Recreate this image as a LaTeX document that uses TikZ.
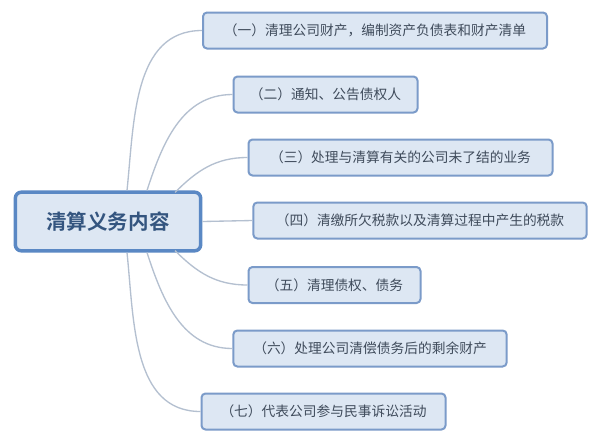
\documentclass[tikz,border=0pt]{standalone}
\usepackage{fontspec}
\newfontfamily\cjk[BoldFont={Noto Sans CJK SC Bold}]{Noto Sans CJK SC}
\usetikzlibrary{positioning, calc}
\definecolor{boxfill}{HTML}{DDE7F3}
\definecolor{boxline}{HTML}{7B9BC9}
\definecolor{rootline}{HTML}{5A88C4}
\definecolor{roottext}{HTML}{34557F}
\definecolor{leaftext}{HTML}{3F4B5B}
\definecolor{linkgray}{HTML}{B4C0D0}

\begin{document}
\begin{tikzpicture}[x=0.75pt, y=-0.75pt,
    leaf/.style={draw=boxline, line width=1.5pt, fill=boxfill, rounded corners=3pt,
        minimum height=27pt, inner sep=0pt, text=leaftext,
        font=\cjk\fontsize{10.3}{12}\selectfont},
    root/.style={draw=rootline, line width=2.6pt, fill=boxfill, rounded corners=4.5pt,
        minimum width=139pt, minimum height=44pt, inner sep=0pt, text=roottext,
        font=\cjk\bfseries\fontsize{15.4}{18}\selectfont},
    link/.style={draw=linkgray, line width=1pt}]

    \fill[white] (0,0) rectangle (600,444);

    % central topic
    \node[root] (root) at (108,221.5) {清算义务内容};

    % the seven duties
    \node[leaf, minimum width=258pt] (d1) at (375,30.5) {（一）清理公司财产，编制资产负债表和财产清单};
    \node[leaf, minimum width=138pt] (d2) at (325.5,94.5) {（二）通知、公告债权人};
    \node[leaf, minimum width=228pt] (d3) at (400.5,157.5) {（三）处理与清算有关的公司未了结的业务};
    \node[leaf, minimum width=250pt] (d4) at (420,220.5) {（四）清缴所欠税款以及清算过程中产生的税款};
    \node[leaf, minimum width=129pt] (d5) at (334.5,285) {（五）清理债权、债务};
    \node[leaf, minimum width=205pt] (d6) at (370,348.5) {（六）处理公司清偿债务后的剩余财产};
    \node[leaf, minimum width=183pt] (d7) at (323.5,411.5) {（七）代表公司参与民事诉讼活动};

    % curved links
    \draw[link] ($(root.north)+(19,0)$) to[out=84, in=180] (d1.west);
    \draw[link] ($(root.north)+(39,0)$) to[out=72, in=180] (d2.west);
    \draw[link] ($(root.north)+(67,2)$) to[out=45, in=180] (d3.west);
    \draw[link] (root.east) -- (d4.west);
    \draw[link] ($(root.south)+(67,-2)$) to[out=-45, in=180] (d5.west);
    \draw[link] ($(root.south)+(39,0)$) to[out=-72, in=180] (d6.west);
    \draw[link] ($(root.south)+(19,0)$) to[out=-84, in=180] (d7.west);

\end{tikzpicture}
\end{document}
